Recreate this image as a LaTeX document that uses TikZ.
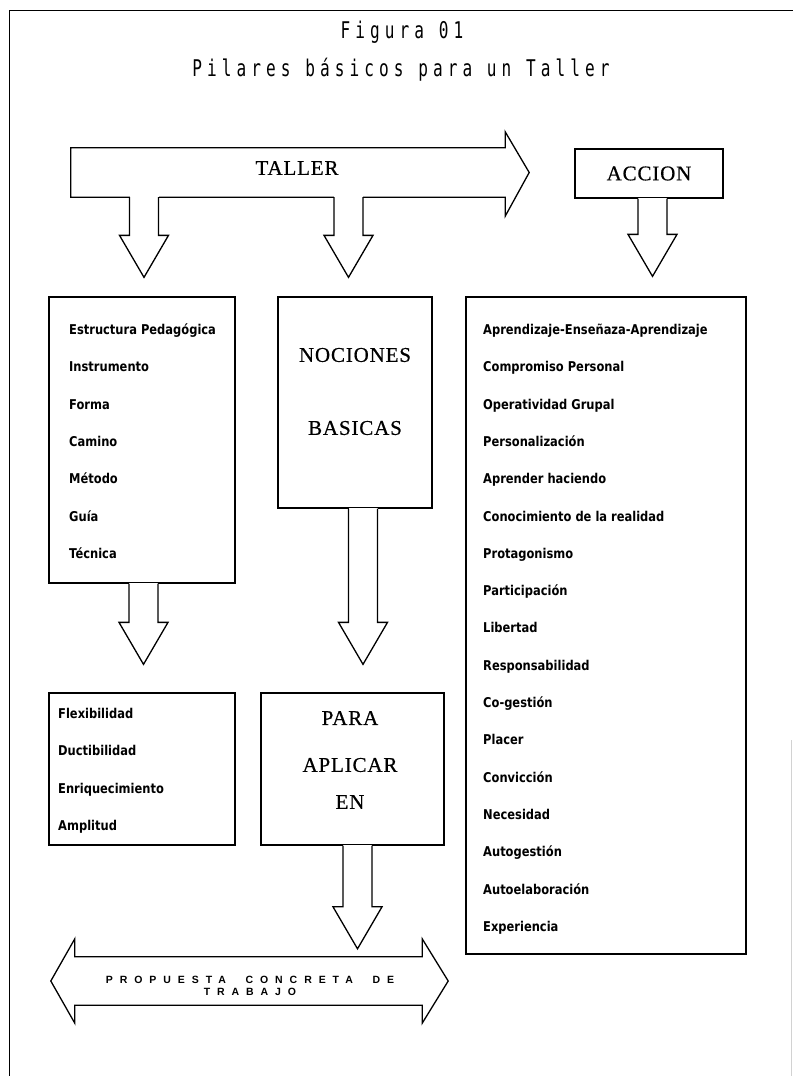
\documentclass[tikz,border=0pt]{standalone}
\usepackage{fontspec}
\setmainfont{Liberation Serif}
\newfontfamily\titlefont[FakeStretch=0.7, LetterSpace=22]{DejaVu Sans Mono}
\newfontfamily\itemfont[FakeStretch=0.85]{DejaVu Sans}
\newfontfamily\bannerfont[LetterSpace=66]{Liberation Sans}
\newfontfamily\wordfont[LetterSpace=4, FakeBold=0.6]{Liberation Serif}
\usetikzlibrary{calc}
\tikzstyle{box} = [draw, line width=1.3pt, inner sep=0pt]
\tikzstyle{blockline} = [line width=1.3pt, line join=miter]
\tikzstyle{item} = [anchor=base west, inner sep=0pt, font=\itemfont\bfseries\fontsize{13.5}{15}\selectfont]
\tikzstyle{word} = [inner sep=0pt, font=\wordfont\fontsize{21}{25}\selectfont]
\tikzstyle{heading} = [anchor=base, inner sep=0pt, font=\titlefont\fontsize{23}{27}\selectfont]
\tikzstyle{banner} = [inner sep=0pt, align=center, font=\bannerfont\bfseries\fontsize{10.5}{12}\selectfont]
% hollow arrow pointing down: from node, x, to node, gap above target
\newcommand{\downblock}[4]{%
  \fill[white] let \p1 = (#1.south), \p2 = (#3.north) in
    (#2-14.5pt, \y1+1pt) rectangle (#2+14.5pt, \y2+#4pt+42pt);
  \draw[blockline] let \p1 = (#1.south), \p2 = (#3.north) in
    (#2-14.5pt, \y1) -- (#2-14.5pt, \y2+#4pt+42pt) -- (#2-24.5pt, \y2+#4pt+42pt)
    -- (#2pt, \y2+#4pt) -- (#2+24.5pt, \y2+#4pt+42pt) -- (#2+14.5pt, \y2+#4pt+42pt)
    -- (#2+14.5pt, \y1);}

\begin{document}
\begin{tikzpicture}[x=1pt, y=-1pt]
\useasboundingbox (0,0) rectangle (793,1076);

% frame
\draw[line width=1pt] (9,1076) -- (9,10) -- (793,10);
\draw[gray!35, line width=0.8pt] (791,740) -- (791,1076);

\node at (402, 38.5) (fig) [heading] {Figura 01};
\node at (401, 76.5) (titulo) [heading] {Pilares básicos para un Taller};

% top arrow and box
\node at (288, 172.5) (taller) [inner sep=0pt, minimum width=434pt, minimum height=49pt] {};
\draw[blockline] (taller.south west) -- (taller.north west) -- (taller.north east) -- ++(0,-16)
  -- ([xshift=24pt]taller.east) -- ($(taller.south east)+(0,19)$) -- (taller.south east) -- cycle;
\node at (297, 168) (tallertxt) [word] {TALLER};
\node at (649, 173.5) (accion) [box, minimum width=148pt, minimum height=49pt] {\wordfont\fontsize{21}{25}\selectfont ACCION};

% boxes
\node at (142, 440) (lbox) [box, minimum width=186pt, minimum height=286pt] {};
\node at (355, 402.5) (nbox) [box, minimum width=154pt, minimum height=211pt] {};
\node at (606, 625.5) (rbox) [box, minimum width=280pt, minimum height=657pt] {};
\node at (142, 769) (fbox) [box, minimum width=186pt, minimum height=152pt] {};
\node at (352.5, 769) (pbox) [box, minimum width=183pt, minimum height=152pt] {};

% bottom double arrow
\node at (248.5, 981) (propuesta) [inner sep=0pt, minimum width=347pt, minimum height=48pt] {};
\draw[blockline] (propuesta.north west) -- (propuesta.north east) -- ++(0,-18)
  -- ([xshift=26pt]propuesta.east) -- ($(propuesta.south east)+(0,18)$) -- (propuesta.south east)
  -- (propuesta.south west) -- ++(0,18) -- ([xshift=-24pt]propuesta.west)
  -- ($(propuesta.north west)+(0,-18)$) -- cycle;
\node at (250, 986) (propuestatxt) [banner] {PROPUESTA\ \ CONCRETA\ \ DE\\TRABAJO};

% arrows between boxes
\downblock{taller}{144}{lbox}{19}
\downblock{taller}{348.5}{nbox}{19}
\downblock{accion}{652.5}{rbox}{20}
\downblock{lbox}{143.5}{fbox}{28}
\downblock{nbox}{363}{pbox}{28}
\downblock{pbox}{357.5}{propuesta}{8}

% texts
\node at (355, 355) (noc) [word] {NOCIONES};
\node at (355, 428) (bas) [word] {BASICAS};
\node at (350, 718) (para) [word] {PARA};
\node at (350, 765) (apl) [word] {APLICAR};
\node at (350, 802) (en) [word] {EN};

\foreach \t [count=\i from 0] in {Estructura Pedagógica, Instrumento, Forma, Camino, Método, Guía, Técnica}
  \node at (69, 334.5+37.3*\i) (l\i) [item] {\t};
\foreach \t [count=\i from 0] in {Flexibilidad, Ductibilidad, Enriquecimiento, Amplitud}
  \node at (58, 718.5+37.3*\i) (f\i) [item] {\t};
\foreach \t [count=\i from 0] in {Aprendizaje-Enseñaza-Aprendizaje, Compromiso Personal, Operatividad Grupal,
  Personalización, Aprender haciendo, Conocimiento de la realidad, Protagonismo, Participación, Libertad,
  Responsabilidad, Co-gestión, Placer, Convicción, Necesidad, Autogestión, Autoelaboración, Experiencia}
  \node at (483, 334.5+37.3*\i) (r\i) [item] {\t};

\end{tikzpicture}
\end{document}
